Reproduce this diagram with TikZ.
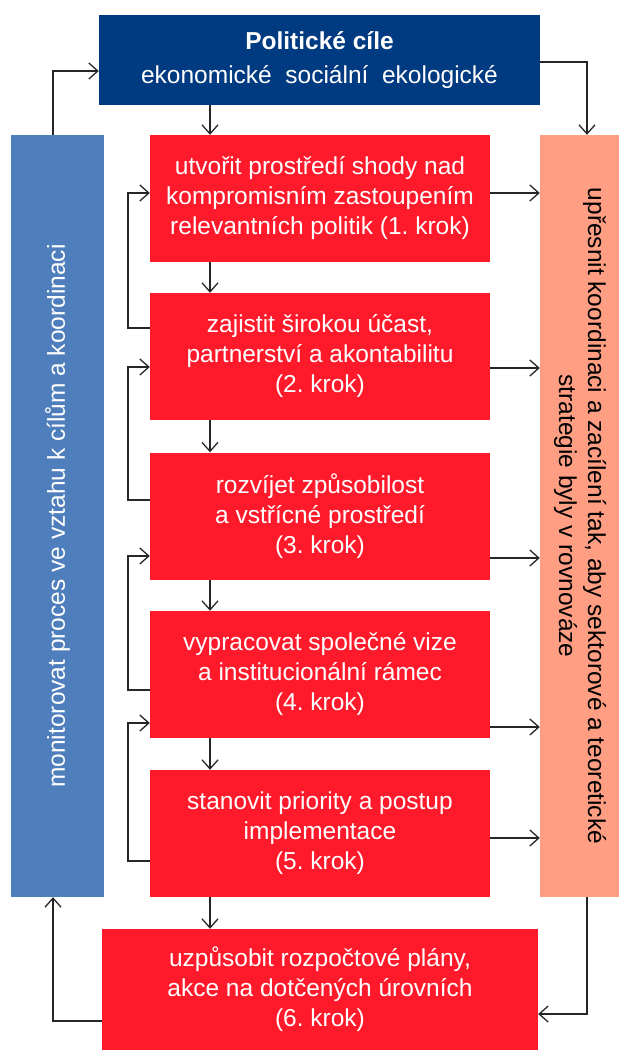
\documentclass[tikz,border=0pt]{standalone}
\usepackage{fontspec}
\setmainfont{Liberation Sans}
\usetikzlibrary{arrows.meta}
\definecolor{goalblue}{RGB}{0,58,128}
\definecolor{monblue}{RGB}{79,126,189}
\definecolor{stepred}{RGB}{255,26,43}
\definecolor{salmon}{RGB}{255,158,130}
\frenchspacing
\begin{document}
\begin{tikzpicture}[x=1pt, y=1pt,
	stepbox/.style={fill=stepred, text=white, minimum width=340pt, minimum height=127pt, inner sep=0pt, align=center, font=\fontsize{24.5}{30}\selectfont},
	sidebox/.style={minimum width=#1, minimum height=762pt, inner sep=0pt, font=\fontsize{24.5}{29}\selectfont},
	arr/.style={-{Straight Barb[length=9pt,width=16pt]}, line width=1.3pt, black!85}]
	\useasboundingbox (0,0) rectangle (619,-1050);
	\coordinate (dn) at (210,0);
	\coordinate (fb) at (128,0);
	\coordinate (ml) at (53,0);
	\coordinate (mr) at (587,0);
	% boxes
	\node[fill=goalblue, text=white, minimum width=441pt, minimum height=90pt, inner sep=0pt, align=center, font=\fontsize{24.5}{34}\selectfont] (goal) at (319.5,-60) {\textbf{Politické cíle}\\ekonomické\ \ sociální\ \ ekologické};
	\node[sidebox=93pt, fill=monblue, text=white] (mon) at (57.5,-516) {\rotatebox{90}{monitorovat proces ve vztahu k cílům a koordinaci}};
	\node[sidebox=79pt, fill=salmon, text=black] (refine) at (579.5,-516) {\rotatebox{-90}{\begin{tabular}{@{}c@{}}upřesnit koordinaci a zacílení tak, aby sektorové a teoretické\\strategie byly v rovnováze\end{tabular}}};
	\node[stepbox] (s1) at (320,-198.5) {utvořit prostředí shody nad\\kompromisním zastoupením\\relevantních politik (1. krok)};
	\node[stepbox] (s2) at (320,-356.5) {zajistit širokou účast,\\partnerství a akontabilitu\\(2. krok)};
	\node[stepbox] (s3) at (320,-516) {rozvíjet způsobilost\\a vstřícné prostředí\\(3. krok)};
	\node[stepbox] (s4) at (320,-674.5) {vypracovat společné vize\\a institucionální rámec\\(4. krok)};
	\node[stepbox] (s5) at (320,-833.5) {stanovit priority a postup\\implementace\\(5. krok)};
	\node[stepbox, minimum width=436pt, minimum height=121pt] (s6) at (320,-989.5) {uzpůsobit rozpočtové plány,\\akce na dotčených úrovních\\(6. krok)};
	% arrows
	\foreach \a/\b in {goal/s1, s1/s2, s2/s3, s3/s4, s4/s5, s5/s6}
		\draw[arr] (\a.south -| dn) -- (\b.north -| dn);
	\foreach \n/\y in {1/193, 2/368, 3/558, 4/727, 5/838}
		\draw[arr] (s\n.east |- 0,-\y) -- (refine.west |- 0,-\y);
	\foreach \n/\m/\yo/\yi in {2/1/328/193, 3/2/500/367, 4/3/690/556, 5/4/861/723}
		\draw[arr] (s\n.west |- 0,-\yo) -| (fb |- 0,-\yi) -- (s\m.west |- 0,-\yi);
	\draw[arr] (mon.north -| ml) |- (goal.west |- 0,-71);
	\draw[arr] (goal.east |- 0,-62) -| (refine.north -| mr);
	\draw[arr] (refine.south -| mr) |- (s6.east |- 0,-1014);
	\draw[arr] (s6.west |- 0,-1021) -| (mon.south -| ml);
\end{tikzpicture}
\end{document}
